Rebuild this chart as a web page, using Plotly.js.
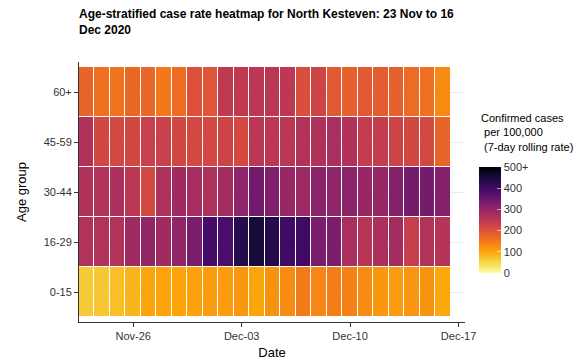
<!DOCTYPE html>
<html>
<head>
<meta charset="utf-8">
<script src="https://cdn.plot.ly/plotly-3.0.1.min.js"></script>
<style>html,body{margin:0;padding:0;background:#fff;}#chart{width:586px;height:362px;}</style>
</head>
<body>
<div id="chart"></div>
<script>
var dates = ['2020-11-23','2020-11-24','2020-11-25','2020-11-26','2020-11-27','2020-11-28','2020-11-29','2020-11-30',
             '2020-12-01','2020-12-02','2020-12-03','2020-12-04','2020-12-05','2020-12-06','2020-12-07','2020-12-08',
             '2020-12-09','2020-12-10','2020-12-11','2020-12-12','2020-12-13','2020-12-14','2020-12-15','2020-12-16'];
var ageGroups = ['0-15','16-29','30-44','45-59','60+'];

var age0_15   = [62,65,75,85,100,102,100,105,110,110,115,100,120,128,148,135,145,140,130,115,110,118,120,98];
var age16_29  = [262,262,262,285,300,285,302,330,395,390,430,450,432,405,405,330,328,275,255,270,280,235,262,258];
var age30_44  = [265,262,270,250,215,268,285,278,268,280,305,340,322,295,288,310,305,310,295,298,320,338,336,320];
var age45_59  = [265,220,215,218,232,230,220,215,215,225,215,250,250,250,262,265,275,265,238,238,225,218,215,175];
var age60plus = [175,160,158,170,172,150,165,200,195,245,245,250,252,248,205,225,190,180,190,185,180,165,160,130];

var xTickVals = ['2020-11-26','2020-12-03','2020-12-10','2020-12-17'];
var xTickText = ['Nov-26','Dec-03','Dec-10','Dec-17'];
var cbTickVals = [0,100,200,300,400,500];
var cbTickText = ['0','100','200','300','400','500+'];
var legendTitle = 'Confirmed cases<br> per 100,000<br> (7-day rolling rate)';

var infernoR = [
  [0.0,'#fcffa4'],[0.1,'#f6d746'],[0.2,'#fca50a'],[0.3,'#f37819'],[0.4,'#dd513a'],
  [0.5,'#bc3754'],[0.6,'#932667'],[0.7,'#6a176e'],[0.8,'#420a68'],[0.9,'#160b39'],[1.0,'#000004']
];

var trace = {
  type: 'heatmap',
  x: dates,
  y: ageGroups,
  z: [age0_15, age16_29, age30_44, age45_59, age60plus],
  zmin: 0, zmax: 500,
  colorscale: infernoR,
  xgap: 1, ygap: 1,
  hoverinfo: 'x+y+z',
  colorbar: {
    tickvals: cbTickVals, ticktext: cbTickText,
    tickfont: {family: 'Liberation Sans, Arial', size: 11, color: '#333'},
    ticks: 'inside', ticklen: 4, tickcolor: 'rgba(255,255,255,0.6)',
    thickness: 22, thicknessmode: 'pixels',
    len: 106, lenmode: 'pixels',
    x: 1.036, xanchor: 'left', xpad: 0,
    y: 0.1885, yanchor: 'bottom', ypad: 0,
    outlinewidth: 0
  }
};

var layout = {
  width: 586, height: 362,
  margin: {l: 79, r: 121, t: 62, b: 40},
  paper_bgcolor: '#fff', plot_bgcolor: '#fff',
  font: {family: 'Liberation Sans, Arial', size: 11, color: '#333'},
  title: {
    text: '<b>Age-stratified case rate heatmap for North Kesteven: 23 Nov to 16<br>Dec 2020</b>',
    font: {family: 'Liberation Sans, Arial', size: 12, color: '#000'},
    xref: 'container', x: 79/586, xanchor: 'left',
    yref: 'container', y: 1 - 18/362, yanchor: 'top'
  },
  annotations: [{
    text: legendTitle, showarrow: false, align: 'left',
    xref: 'paper', yref: 'paper', x: 1.037, y: 0.815, xanchor: 'left', yanchor: 'top',
    font: {family: 'Liberation Sans, Arial', size: 11, color: '#000'}
  }],
  xaxis: {
    type: 'date',
    range: ['2020-11-22 12:00', '2020-12-17 10:00'],
    tickvals: xTickVals, ticktext: xTickText,
    tickfont: {size: 11, color: '#333'},
    ticks: 'outside', ticklen: 4, tickcolor: '#333',
    showline: true, linecolor: '#333', linewidth: 1,
    showgrid: false, zeroline: false,
    title: {text: 'Date', font: {size: 13, color: '#000'}, standoff: 6}
  },
  yaxis: {
    type: 'category',
    range: [-0.6, 4.6],
    tickfont: {size: 11, color: '#333'},
    ticks: 'outside', ticklen: 4, tickcolor: '#333',
    showline: true, linecolor: '#333', linewidth: 1,
    showgrid: true, gridcolor: '#ebebeb', gridwidth: 1,
    zeroline: false,
    title: {text: 'Age group', font: {size: 13, color: '#000'}, standoff: 14}
  }
};

Plotly.newPlot('chart', [trace], layout, {displayModeBar: false, staticPlot: true});
</script>
</body>
</html>
